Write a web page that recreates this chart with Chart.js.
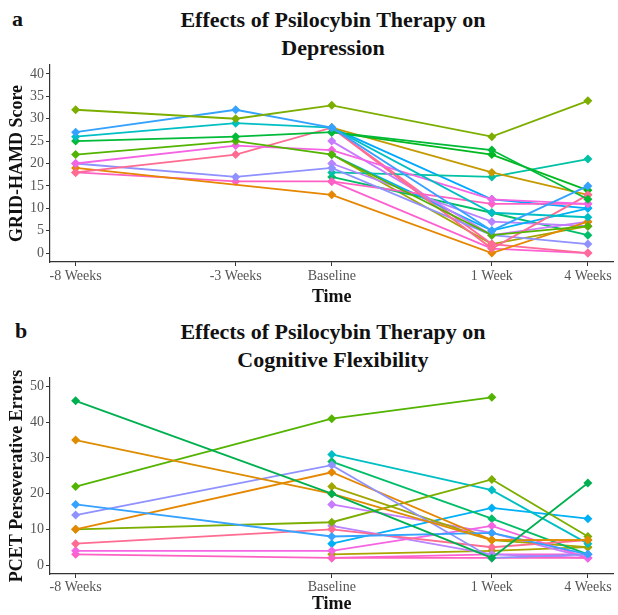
<!DOCTYPE html>
<html>
<head>
<meta charset="utf-8">
<script src="https://cdn.jsdelivr.net/npm/chart.js@4.4.1/dist/chart.umd.min.js"></script>
<style>
  body { margin: 0; background: #fff; }
  #page { position: relative; width: 618px; height: 615px; overflow: hidden; font-family: "Liberation Serif", serif; }
  canvas { position: absolute; left: 0; }
  .panel { position: absolute; font-weight: bold; font-size: 22px; color: #111; }
  .title { position: absolute; left: 133px; width: 400px; text-align: center; font-weight: bold; font-size: 22px; line-height: 28px; color: #111; }
</style>
</head>
<body>
<div id="page">
  <div class="panel" style="left:12px; top:6px;">a</div>
  <div class="title" style="top:6px;">Effects of Psilocybin Therapy on<br>Depression</div>
  <canvas id="chartA" width="618" height="310" style="top:0"></canvas>
  <div class="panel" style="left:15px; top:318px;">b</div>
  <div class="title" style="top:318px;">Effects of Psilocybin Therapy on<br>Cognitive Flexibility</div>
  <canvas id="chartB" width="618" height="305" style="top:310px"></canvas>
</div>
<script>
// time points (weeks relative to baseline) and their labels
const timesA = [-8, -3, 0, 5, 8]
const labelsA = ['-8 Weeks', '-3 Weeks', 'Baseline', '1 Week', '4 Weeks']
const timesB = [-8, 0, 5, 8]
const labelsB = ['-8 Weeks', 'Baseline', '1 Week', '4 Weeks']

const yTicksA = [0, 5, 10, 15, 20, 25, 30, 35, 40]
const yTicksB = [0, 10, 20, 30, 40, 50]

// GRID-HAMD scores, one row per participant
const depression = [
    [32, 30, 33, 26, 34],
    [27, 32, 28, 5, 15],
    [26, 29, 28, 9, 8],
    [25, 26, 27, 23, 12],
    [22, 25, 22, 4, 6],
    [20, 24, 23, 12, 11],
    [18, 22, 28, 1, 13],
    [20, 17, 19, 4, 2],
    [19, null, 13, 0, 7],
    [18, 16, 16, 11, 11],
    [null, null, 27, 22, 14],
    [null, null, 28, 18, 13],
    [null, null, 25, 4, 7],
    [null, null, 22, 5, 10],
    [null, null, 20, 7, 6],
    [null, null, 18, 17, 21],
    [null, null, 17, 9, 4],
    [null, null, 28, 2, 0],
    [null, null, 16, 1, 0],
    [null, null, 22, 2, 6],
    [null, null, 28, 12, 10],
]
const depressionColors = [
    '#7CAE00', '#35A2FF', '#00BFC4', '#00BA38', '#53B400', '#F564E3', '#FF6C91',
    '#8F91FF', '#E58700', '#FF61C3', '#00B81F', '#C49A00', '#C77CFF', '#00B0F6',
    '#B983FF', '#00C1A3', '#00BE67', '#FF6A98', '#FD61D1', '#A3A500', '#00A9FF',
]

// PCET perseverative errors, one row per participant
const pcet = [
    [46, 20, 2, 23],
    [35, 20, 7, 7],
    [22, 41, 47, null],
    [17, 8, 9, 3],
    [14, 28, 2, 3],
    [10, 26, 7, 7],
    [10, 12, 24, 8],
    [6, 10, 5, 7],
    [4, 4, 11, 2],
    [3, 2, 2, 2],
    [null, 31, 21, 6],
    [null, 29, 13, 3],
    [null, 22, 7, 5],
    [null, 17, 9, 2],
    [null, 11, 3, 2],
    [null, 6, 16, 13],
    [null, 3, 4, 5],
    [null, 2, 3, 3],
]
const pcetColors = [
    '#00B050', '#DE8C00', '#53B400', '#35A2FF', '#8F91FF', '#E58700', '#7CAE00',
    '#FF6C91', '#F564E3', '#FF61C3', '#00BFC4', '#00BE67', '#A3A500', '#C77CFF',
    '#B983FF', '#00B0F6', '#AAA300', '#FD61D1',
]

const axisColor = '#333'
const tickColor = '#555'
const font = 'Liberation Serif'

function makeChart(id, times, labels, rows, colors, yTicks, yMin, yMax, yTitle, cfg) {
    const datasets = rows.map((row, i) => ({
        data: row.map((v, j) => ({ x: times[j], y: v })),
        borderColor: colors[i],
        backgroundColor: colors[i],
        borderWidth: 1.8,
        pointStyle: 'rectRot',
        pointRadius: 4.5,
        pointBorderWidth: 0,
        spanGaps: true,
    }))

    return new Chart(document.getElementById(id), {
        type: 'line',
        data: { datasets },
        options: {
            responsive: false,
            animation: false,
            events: [],
            layout: { padding: { top: cfg.top, right: 3, left: 0, bottom: 0 } },
            plugins: { legend: { display: false }, tooltip: { enabled: false } },
            scales: {
                x: {
                    type: 'linear',
                    min: -8.8,
                    max: 8.8,
                    afterBuildTicks: axis => { axis.ticks = times.map(v => ({ value: v })) },
                    afterFit: s => { s.height = cfg.xHeight; s.paddingLeft = 0; s.paddingRight = 0 },
                    ticks: {
                        autoSkip: false,
                        maxRotation: 0,
                        padding: cfg.tickPad,
                        color: tickColor,
                        font: { family: font, size: 14 },
                        callback: v => labels[times.indexOf(v)],
                    },
                    grid: { drawOnChartArea: false, drawTicks: true, tickLength: 4, color: axisColor },
                    border: { display: true, color: axisColor, width: 1.2 },
                    title: {
                        display: true,
                        text: 'Time',
                        color: '#111',
                        font: { family: font, size: 18, weight: 'bold' },
                        padding: { top: 0, bottom: cfg.titlePad },
                    },
                },
                y: {
                    min: yMin,
                    max: yMax,
                    afterBuildTicks: axis => { axis.ticks = yTicks.map(v => ({ value: v })) },
                    afterFit: s => { s.width = 50; s.paddingTop = 0; s.paddingBottom = 0 },
                    ticks: {
                        padding: 2,
                        color: tickColor,
                        font: { family: font, size: 14 },
                    },
                    grid: { drawOnChartArea: false, drawTicks: true, tickLength: 4, color: axisColor },
                    border: { display: true, color: axisColor, width: 1.2 },
                    title: {
                        display: true,
                        text: yTitle,
                        color: '#111',
                        font: { family: font, size: 18, weight: 'bold' },
                        padding: { top: 7, bottom: 0 },
                    },
                },
            },
        },
    })
}

makeChart('chartA', timesA, labelsA, depression, depressionColors, yTicksA, -2, 42,
    'GRID-HAMD Score', { top: 65, xHeight: 48, titlePad: 2, tickPad: 2 })

makeChart('chartB', timesB, labelsB, pcet, pcetColors, yTicksB, -2.5, 52.4,
    'PCET Perseverative Errors', { top: 68, xHeight: 41, titlePad: 0, tickPad: 1 })
</script>
</body>
</html>
